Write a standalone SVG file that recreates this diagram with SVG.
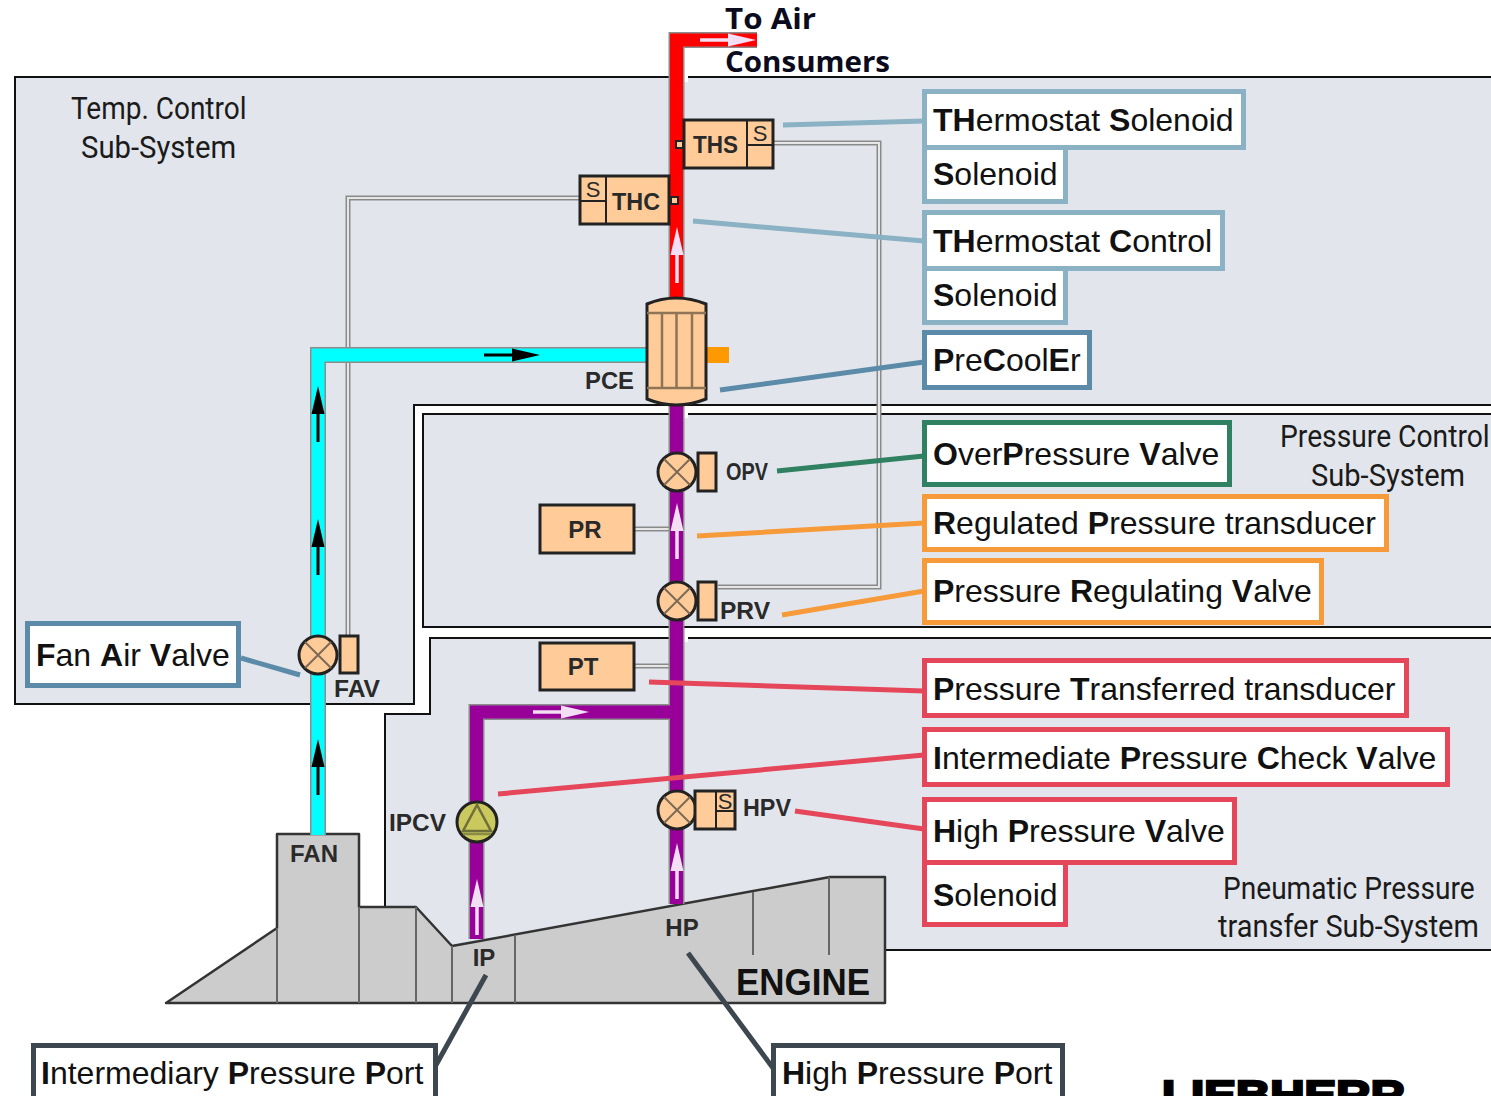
<svg xmlns="http://www.w3.org/2000/svg" width="1491" height="1096" viewBox="0 0 1491 1096">
<style>
.region{fill:#e2e6ec;stroke:#111;stroke-width:2}
.sub{font-family:"Roboto","Liberation Sans",sans-serif;font-size:32px;fill:#1b1b1b}
.tag{font-family:"Liberation Sans",sans-serif;font-weight:bold;font-size:24px;fill:#2a2a2a}
.lab{font-family:"Liberation Sans",sans-serif;font-size:32px;fill:#111}
.lab tspan{font-weight:bold}
.box{fill:#fff;stroke-width:5}
.c1{stroke:#8ab1c4}.c2{stroke:#5b8ba8}.c3{stroke:#2f8161}.c4{stroke:#f79a3a}.c5{stroke:#e5465a}.c6{stroke:#3d4750}
.lead{fill:none;stroke-width:5}
.pipe{fill:none;stroke:#8c8c8c;stroke-width:16}
.red{fill:none;stroke:#f00;stroke-width:13}.cyan{fill:none;stroke:#0ff;stroke-width:13}.pur{fill:none;stroke:#909;stroke-width:13}
.sig1{fill:none;stroke:#8a8a8a;stroke-width:5}.sig2{fill:none;stroke:#e6e6e6;stroke-width:2}
.part{fill:#fc9;stroke:#222;stroke-width:3}
.thin{fill:none;stroke:#222;stroke-width:2}
.eng{fill:#ccc;stroke:#333;stroke-width:2.500;stroke-linejoin:round}
.engl{fill:none;stroke:#666;stroke-width:2}
.s{font-family:"Liberation Sans",sans-serif;font-size:22px;fill:#2a2a2a;text-anchor:middle}
</style>
<defs>
<g id="valve"><circle r="19" class="part"/><path d="M-13-13L13 13M13-13L-13 13" fill="none" stroke="#7d6a55" stroke-width="2"/></g>
<g id="aw"><path d="M0 0V-34" stroke="#f3dff3" stroke-width="3.500" fill="none"/><path d="M-6.500-28L0-56L6.500-28Z" fill="#f3dff3"/></g>
<g id="ab"><path d="M0 0V-34" stroke="#000" stroke-width="3" fill="none"/><path d="M-6.500-28L0-56L6.500-28Z" fill="#000"/></g>
</defs>
<rect width="1491" height="1096" fill="#fff"/>
<g id="regions">
<path class="region" d="M1495 77H15V704H414V405H1495Z"/>
<path class="region" d="M1495 414H423V627H1495Z"/>
<path class="region" d="M1495 638H430V714H385V950H1495Z"/>
<rect x="684" y="70" width="4" height="12" fill="#fff"/>
<rect x="684" y="410" width="4" height="8" fill="#fff"/>
<rect x="684" y="634" width="4" height="8" fill="#fff"/>
</g>
<g id="engine">
<path class="eng" d="M166 1003L277 928V834H359V907H416L452 946L830 877H885V1003Z"/>
<path class="engl" d="M277 928V1003M359 907V1003M416 907V1003M452 946V1003M515 935V1003M753 892V955M829 877V955"/>
<text class="tag" x="314" y="862" text-anchor="middle" textLength="48" lengthAdjust="spacingAndGlyphs">FAN</text>
<text class="tag" x="484" y="966" text-anchor="middle">IP</text>
<text class="tag" x="682" y="936" text-anchor="middle">HP</text>
<text x="736" y="995" font-family="Liberation Sans,sans-serif" font-weight="bold" font-size="37" fill="#111" textLength="134" lengthAdjust="spacingAndGlyphs">ENGINE</text>
</g>
<g id="connectors">
<path class="sig1" d="M580 198H348V636"/><path class="sig2" d="M580 198H348V636"/>
<path class="sig1" d="M773 143H879V587H718"/><path class="sig2" d="M773 143H879V587H718"/>
<path class="sig1" d="M634 529H669M634 666H669"/><path class="sig2" d="M634 529H669M634 666H669"/>
<path class="pipe" d="M757 40H676.500V300"/><path class="red" d="M757 40H676.500V300"/>
<path class="pipe" d="M318 835V355H648"/><path class="cyan" d="M318 835V355H648"/>
<path class="pipe" d="M676.500 405V904M676.500 712H476.500V939"/><path class="pur" d="M676.500 405V904M676.500 712H476.500V939"/>
<rect x="706" y="347" width="23" height="16" fill="#f90"/>
<use href="#aw" transform="translate(700 40) rotate(90)"/>
<use href="#aw" transform="translate(677 283)"/>
<use href="#aw" transform="translate(677 559)"/>
<use href="#aw" transform="translate(533 712) rotate(90)"/>
<use href="#aw" transform="translate(477 935)"/>
<use href="#aw" transform="translate(677 899)"/>
<use href="#ab" transform="translate(318 442)"/>
<use href="#ab" transform="translate(318 575)"/>
<use href="#ab" transform="translate(318 795)"/>
<use href="#ab" transform="translate(484 355) rotate(90)"/>
<path class="lead c1" d="M783 125L924 121M693 221L924 241"/>
<path class="lead c2" d="M720 390L924 362M241 658L300 675"/>
<path class="lead c3" d="M777 471L924 456"/>
<path class="lead c4" d="M697 536L924 523M782 615L924 591"/>
<path class="lead c5" d="M649 682L924 691M498 794L924 755M795 811L924 829"/>
<path class="lead c6" d="M486 975L436 1065M688 953L773 1068"/>
</g>
<g id="THS"><rect class="part" x="684" y="120" width="89" height="48"/><path class="thin" d="M747 120V168M747 145H773"/><rect x="676" y="141" width="7" height="7" fill="#fc9" stroke="#222" stroke-width="2"/>
<text class="tag" x="693" y="153" textLength="45" lengthAdjust="spacingAndGlyphs">THS</text><text class="s" x="760" y="141">S</text></g>
<g id="THC"><rect class="part" x="580" y="176" width="89" height="48"/><path class="thin" d="M606 176V224M580 201H606"/><rect x="671" y="197" width="7" height="7" fill="#fc9" stroke="#222" stroke-width="2"/>
<text class="tag" x="612" y="210" textLength="48" lengthAdjust="spacingAndGlyphs">THC</text><text class="s" x="593" y="197">S</text></g>
<g id="PCE"><path class="part" d="M647 304Q676 292 706 304V399Q676 411 647 399Z"/><path d="M647 313H706M647 388H706M662 313V388M676.500 313V388M692 313V388" fill="none" stroke="#8f7455" stroke-width="2.500"/>
<text class="tag" x="585" y="389" textLength="49" lengthAdjust="spacingAndGlyphs">PCE</text></g>
<g id="OPV"><use href="#valve" x="677" y="472"/><rect class="part" x="698" y="453" width="18" height="38"/><text class="tag" x="726" y="480" font-size="21" textLength="42" lengthAdjust="spacingAndGlyphs">OPV</text></g>
<g id="PR"><rect class="part" x="540" y="505" width="94" height="48"/><text class="tag" x="585" y="538" text-anchor="middle">PR</text></g>
<g id="PRV"><use href="#valve" x="677" y="601"/><rect class="part" x="698" y="582" width="18" height="38"/><text class="tag" x="720" y="619" textLength="50" lengthAdjust="spacingAndGlyphs">PRV</text></g>
<g id="PT"><rect class="part" x="540" y="643" width="94" height="47"/><text class="tag" x="583" y="675" text-anchor="middle">PT</text></g>
<g id="FAV"><use href="#valve" x="318" y="655"/><rect class="part" x="340" y="636" width="18" height="37"/><text class="tag" x="334" y="697" textLength="46" lengthAdjust="spacingAndGlyphs">FAV</text></g>
<g id="HPV"><use href="#valve" x="677" y="810"/><rect class="part" x="695" y="791" width="40" height="38"/><path class="thin" d="M716 791V829M716 811H735"/><text class="s" x="725" y="809">S</text><text class="tag" x="743" y="816" textLength="48" lengthAdjust="spacingAndGlyphs">HPV</text></g>
<g id="IPCV"><circle cx="477" cy="822" r="20" fill="#c9c95e" stroke="#222" stroke-width="3"/><path d="M477 805L463 831H491Z" fill="none" stroke="#6f6f3a" stroke-width="2.500"/><path d="M463 834H491" stroke="#8b8b45" stroke-width="2.500" fill="none"/><text class="tag" x="389" y="831" textLength="57" lengthAdjust="spacingAndGlyphs">IPCV</text></g>
<g id="air-out"><text x="725" y="29" font-family="Open Sans,sans-serif" font-weight="bold" font-size="29" fill="#0b0b1e" textLength="91" lengthAdjust="spacingAndGlyphs">To Air</text>
<text x="725" y="72" font-family="Open Sans,sans-serif" font-weight="bold" font-size="29" fill="#0b0b1e" textLength="165" lengthAdjust="spacingAndGlyphs">Consumers</text></g>
<g id="subsystem-labels">
<text class="sub" transform="translate(71 119) scale(.875 1)">Temp. Control</text>
<text class="sub" transform="translate(81 158) scale(.915 1)">Sub-System</text>
<text class="sub" transform="translate(1280 447) scale(.883 1)">Pressure Control</text>
<text class="sub" transform="translate(1311 486) scale(.909 1)">Sub-System</text>
<text class="sub" transform="translate(1223 899) scale(.878 1)">Pneumatic Pressure</text>
<text class="sub" transform="translate(1218 937) scale(.905 1)">transfer Sub-System</text>
</g>
<g id="label-ths"><rect class="box c1" x="924.500" y="91.500" width="319" height="56"/><text class="lab" x="933" y="131"><tspan>TH</tspan>ermostat <tspan>S</tspan>olenoid</text></g>
<g id="label-ths-s"><rect class="box c1" x="924.500" y="147.500" width="141" height="54"/><text class="lab" x="933" y="185"><tspan>S</tspan>olenoid</text></g>
<g id="label-thc"><rect class="box c1" x="924.500" y="212.500" width="298" height="56"/><text class="lab" x="933" y="252"><tspan>TH</tspan>ermostat <tspan>C</tspan>ontrol</text></g>
<g id="label-thc-s"><rect class="box c1" x="924.500" y="268.500" width="141" height="54"/><text class="lab" x="933" y="306"><tspan>S</tspan>olenoid</text></g>
<g id="label-pce"><rect class="box c2" x="924.500" y="332.500" width="165" height="55"/><text class="lab" x="933" y="371"><tspan>P</tspan>re<tspan>C</tspan>ool<tspan>E</tspan>r</text></g>
<g id="label-opv"><rect class="box c3" x="924.500" y="422.500" width="305" height="62"/><text class="lab" x="933" y="465"><tspan>O</tspan>ver<tspan>P</tspan>ressure <tspan>V</tspan>alve</text></g>
<g id="label-pr"><rect class="box c4" x="924.500" y="496.500" width="462" height="53"/><text class="lab" x="933" y="534"><tspan>R</tspan>egulated <tspan>P</tspan>ressure transducer</text></g>
<g id="label-prv"><rect class="box c4" x="924.500" y="560.500" width="397" height="62"/><text class="lab" x="933" y="602"><tspan>P</tspan>ressure <tspan>R</tspan>egulating <tspan>V</tspan>alve</text></g>
<g id="label-pt"><rect class="box c5" x="924.500" y="660.500" width="482" height="55"/><text class="lab" x="933" y="700"><tspan>P</tspan>ressure <tspan>T</tspan>ransferred transducer</text></g>
<g id="label-ipcv"><rect class="box c5" x="924.500" y="729.500" width="523" height="55"/><text class="lab" x="933" y="769"><tspan>I</tspan>ntermediate <tspan>P</tspan>ressure <tspan>C</tspan>heck <tspan>V</tspan>alve</text></g>
<g id="label-hpv"><rect class="box c5" x="924.500" y="799.500" width="310" height="63"/><text class="lab" x="933" y="842"><tspan>H</tspan>igh <tspan>P</tspan>ressure <tspan>V</tspan>alve</text></g>
<g id="label-hpv-s"><rect class="box c5" x="924.500" y="862.500" width="141" height="62"/><text class="lab" x="933" y="906"><tspan>S</tspan>olenoid</text></g>
<g id="label-fav"><rect class="box c2" x="27.500" y="623.500" width="211" height="62"/><text class="lab" x="36" y="666"><tspan>F</tspan>an <tspan>A</tspan>ir <tspan>V</tspan>alve</text></g>
<g id="label-ip"><rect class="box c6" x="33.500" y="1045.500" width="402" height="60"/><text class="lab" x="41" y="1084"><tspan>I</tspan>ntermediary <tspan>P</tspan>ressure <tspan>P</tspan>ort</text></g>
<g id="label-hp"><rect class="box c6" x="773.500" y="1045.500" width="289" height="60"/><text class="lab" x="782" y="1084"><tspan>H</tspan>igh <tspan>P</tspan>ressure <tspan>P</tspan>ort</text></g>
<text id="logo" x="1162" y="1109" font-family="Liberation Sans,sans-serif" font-weight="bold" font-size="40" fill="#000" stroke="#000" stroke-width="2.500" textLength="243" lengthAdjust="spacingAndGlyphs">LIEBHERR</text>
</svg>
